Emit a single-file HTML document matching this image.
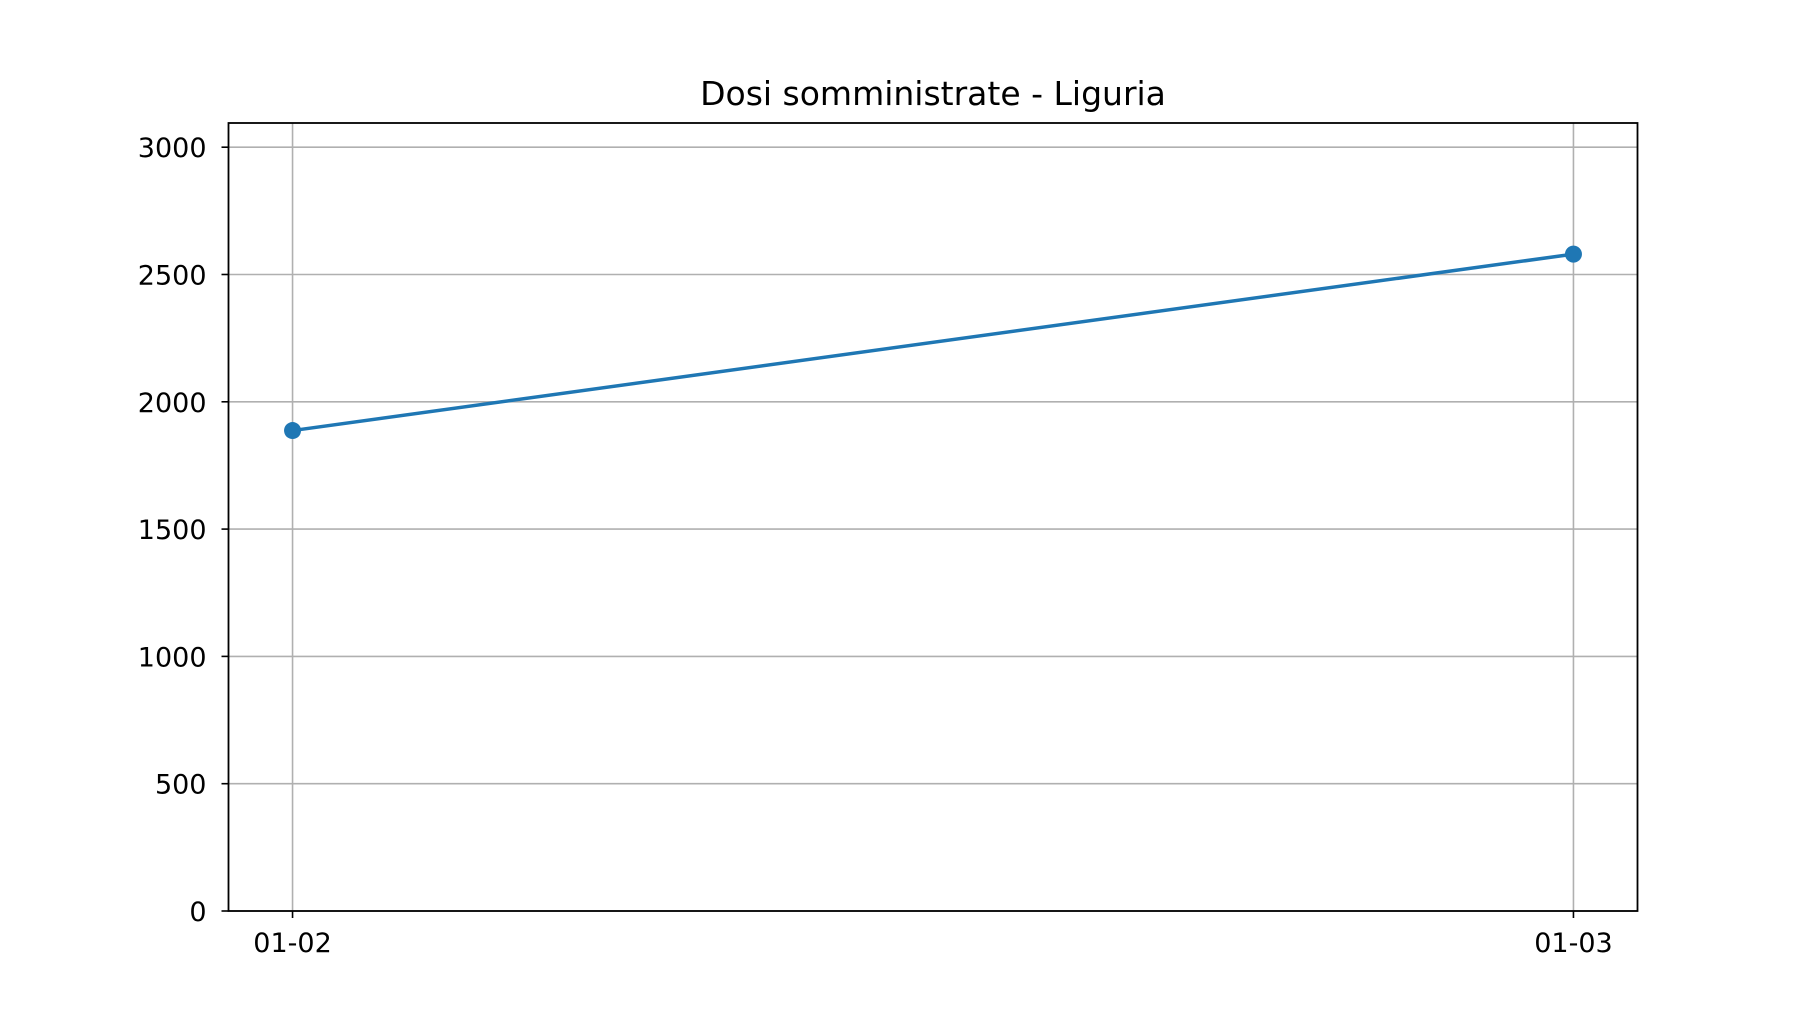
<!DOCTYPE html>
<html><head><meta charset="utf-8"><style>
html,body{margin:0;padding:0;background:#fff;}
svg text{font-family:"DejaVu Sans","Liberation Sans",sans-serif;fill:#000;}
</style></head><body>
<svg id="chart" width="1820" height="1024" viewBox="0 0 1820 1024">
<rect width="1820" height="1024" fill="#fff"/>
<text x="933" y="105" font-size="33" text-anchor="middle">Dosi somministrate - Liguria</text>
<g id="grid"></g>
<g id="axes"></g>
<g id="series"></g>
<rect x="228.5" y="123" width="1409" height="788" fill="none" stroke="#000" stroke-width="1.8"/>
</svg>
<script>
const categories = ["01-02", "01-03"];
const values = [1887, 2580];
const yTicks = [0, 500, 1000, 1500, 2000, 2500, 3000];

const L = 228.5, R = 1637.5, T = 123, B = 911;
const xMin = -0.05, xMax = 1.05, yMin = 0, yMax = 3095;
const xs = i => L + (i - xMin) / (xMax - xMin) * (R - L);
const ys = v => B - (v - yMin) / (yMax - yMin) * (B - T);
const NS = "http://www.w3.org/2000/svg";
function mk(tag, attrs, parent) {
  const e = document.createElementNS(NS, tag);
  for (const k in attrs) e.setAttribute(k, attrs[k]);
  parent.appendChild(e);
  return e;
}
const grid = document.getElementById('grid');
const axes = document.getElementById('axes');
const series = document.getElementById('series');

yTicks.forEach(t => {
  const y = ys(t);
  const g = mk('line', {x1: L, x2: R, y1: y, y2: y, stroke: '#b0b0b0', 'stroke-width': 1.6}, grid);
  
  
  const tk = mk('line', {x1: L - 7, x2: L, y1: y, y2: y, stroke: '#000', 'stroke-width': 1.6}, axes);
  
  
  const lb = mk('text', {x: L - 22, y: y + 10, 'font-size': 27, 'text-anchor': 'end'}, axes);
  lb.textContent = t;
  
  
});
categories.forEach((c, i) => {
  const x = xs(i);
  const g = mk('line', {x1: x, x2: x, y1: T, y2: B, stroke: '#b0b0b0', 'stroke-width': 1.6}, grid);
  
  
  const tk = mk('line', {x1: x, x2: x, y1: B, y2: B + 7, stroke: '#000', 'stroke-width': 1.6}, axes);
  
  
  const lb = mk('text', {x: x, y: B + 41, 'font-size': 27, 'text-anchor': 'middle'}, axes);
  lb.textContent = c;
  
  
});
const pts = values.map((v, i) => xs(i) + ',' + ys(v)).join(' ');
const line = mk('polyline', {points: pts, fill: 'none', stroke: '#1f77b4', 'stroke-width': 3.5}, series);


values.forEach((v, i) => {
  const p = mk('circle', {cx: xs(i), cy: ys(v), r: 8.5, fill: '#1f77b4'}, series);
  
  
});
</script>
</body></html>
